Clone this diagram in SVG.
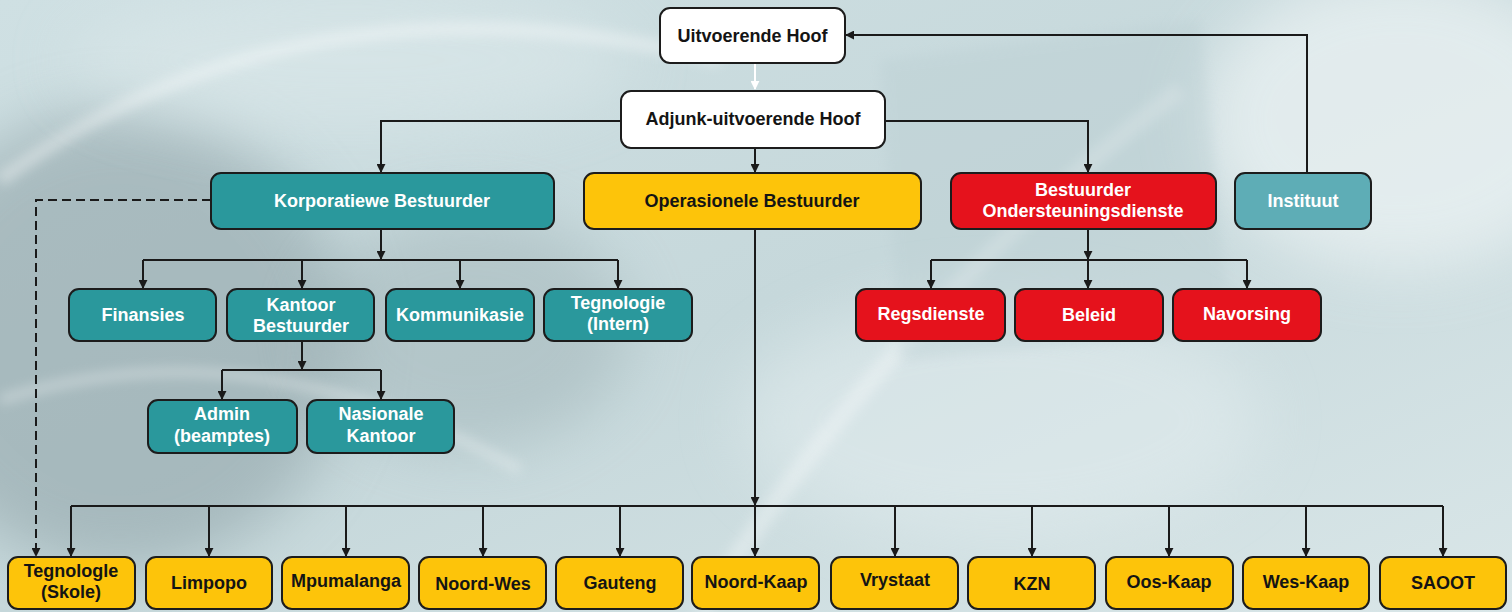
<svg xmlns="http://www.w3.org/2000/svg" width="1512" height="612" viewBox="0 0 1512 612">
<defs>
<linearGradient id="bg" x1="0" y1="0" x2="1" y2="1">
<stop offset="0" stop-color="#cfe0e3"/>
<stop offset="0.5" stop-color="#c6d8db"/>
<stop offset="1" stop-color="#d9e6e8"/>
</linearGradient>
<filter id="blur" x="-50%" y="-50%" width="200%" height="200%"><feGaussianBlur stdDeviation="30"/></filter>
<filter id="blur2" x="-20%" y="-20%" width="140%" height="140%"><feGaussianBlur stdDeviation="6"/></filter>
<marker id="ah" viewBox="0 0 10 10" refX="9" refY="5" markerWidth="9" markerHeight="9" markerUnits="userSpaceOnUse" orient="auto"><path d="M0,0 L10,5 L0,10 z" fill="#1a1a1a"/></marker>
<marker id="ahw" viewBox="0 0 10 10" refX="9" refY="5" markerWidth="9" markerHeight="9" markerUnits="userSpaceOnUse" orient="auto"><path d="M0,0 L10,5 L0,10 z" fill="#ffffff"/></marker>
<style>
.box{stroke:#1c1c1c;stroke-width:2}
.w{fill:#ffffff}
.t{fill:#2a989c}
.ti{fill:#5eadb6}
.y{fill:#fdc40a}
.r{fill:#e5121c}
text{font-family:"Liberation Sans",Arial,sans-serif;font-weight:bold;font-size:18px;text-anchor:middle}
.dk{fill:#141414}
.lt{fill:#ffffff}
.c{fill:none;stroke:#1a1a1a;stroke-width:2}
.ca{marker-end:url(#ah)}
.dash{stroke-dasharray:9 5}
</style>
</defs>
<g id="background">
<rect width="1512" height="612" fill="url(#bg)"/>
<ellipse cx="120" cy="340" rx="230" ry="230" fill="#869a9f" opacity="0.5" filter="url(#blur)"/>
<ellipse cx="470" cy="330" rx="160" ry="120" fill="#97aaae" opacity="0.4" filter="url(#blur)"/>
<ellipse cx="1400" cy="120" rx="200" ry="150" fill="#eef4f5" opacity="0.7" filter="url(#blur)"/>
<ellipse cx="1000" cy="420" rx="260" ry="120" fill="#e4eef0" opacity="0.5" filter="url(#blur)"/>
<ellipse cx="350" cy="60" rx="280" ry="70" fill="#dbe8ea" opacity="0.6" filter="url(#blur)"/>
<path d="M0,180 Q300,-40 720,60" fill="none" stroke="#ffffff" stroke-width="14" opacity="0.35" filter="url(#blur2)"/>
<path d="M0,400 Q250,320 520,470" fill="none" stroke="#ffffff" stroke-width="10" opacity="0.3" filter="url(#blur2)"/>
<path d="M700,612 Q900,300 1180,90" fill="none" stroke="#ffffff" stroke-width="18" opacity="0.3" filter="url(#blur2)"/>
<path d="M880,60 L1200,20 L1230,330 L900,360 z" fill="#b9cdd1" opacity="0.35" filter="url(#blur2)"/>
</g>
<g id="connectors">
<path class="c" d="M755,64 V89" style="stroke:#ffffff" marker-end="url(#ahw)"/>
<path class="c ca" d="M621,121 H381 V172"/>
<path class="c ca" d="M755,149 V172"/>
<path class="c ca" d="M885,121 H1088 V172"/>
<path class="c ca" d="M1307,172 V35 H846"/>
<path class="c ca" d="M381,229 V259"/>
<path class="c" d="M143,260 H618"/>
<path class="c ca" d="M143,260 V288"/>
<path class="c ca" d="M302,260 V288"/>
<path class="c ca" d="M460,260 V288"/>
<path class="c ca" d="M618,260 V288"/>
<path class="c ca" d="M302,342 V369"/>
<path class="c" d="M222,370 H381"/>
<path class="c ca" d="M222,370 V399"/>
<path class="c ca" d="M381,370 V399"/>
<path class="c ca" d="M1088,229 V259"/>
<path class="c" d="M931,260 H1247"/>
<path class="c ca" d="M931,260 V288"/>
<path class="c ca" d="M1088,260 V288"/>
<path class="c ca" d="M1247,260 V288"/>
<path class="c ca dash" d="M211,200 H36 V556"/>
<path class="c ca" d="M755,229 V505"/>
<path class="c ca" d="M755,506 V556"/>
<path class="c" d="M71,506 H1443"/>
<path class="c ca" d="M71,506 V556"/>
<path class="c ca" d="M209,506 V556"/>
<path class="c ca" d="M346,506 V556"/>
<path class="c ca" d="M483,506 V556"/>
<path class="c ca" d="M620,506 V556"/>
<path class="c ca" d="M895,506 V556"/>
<path class="c ca" d="M1032,506 V556"/>
<path class="c ca" d="M1169,506 V556"/>
<path class="c ca" d="M1306,506 V556"/>
<path class="c ca" d="M1443,506 V556"/>
</g>
<g id="uitvoerende-hoof"><rect class="box w" x="660" y="8" width="185" height="55" rx="10"/><text class="dk" x="752.5" y="42">Uitvoerende Hoof</text></g>
<g id="adjunk"><rect class="box w" x="621" y="91" width="264" height="57" rx="10"/><text class="dk" x="753" y="125">Adjunk-uitvoerende Hoof</text></g>
<g id="korporatiewe"><rect class="box t" x="211" y="173" width="343" height="56" rx="10"/><text class="lt" x="382" y="207">Korporatiewe Bestuurder</text></g>
<g id="operasionele"><rect class="box y" x="584" y="173" width="337" height="56" rx="10"/><text class="dk" x="752" y="207">Operasionele Bestuurder</text></g>
<g id="ondersteuning"><rect class="box r" x="951" y="173" width="265" height="56" rx="10"/><text class="lt" x="1083" y="196">Bestuurder</text><text class="lt" x="1083" y="217">Ondersteuningsdienste</text></g>
<g id="instituut"><rect class="box ti" x="1235" y="173" width="136" height="56" rx="10"/><text class="lt" x="1303" y="207">Instituut</text></g>
<g id="finansies"><rect class="box t" x="69" y="289" width="147" height="52" rx="10"/><text class="lt" x="143" y="321">Finansies</text></g>
<g id="kantoor-bestuurder"><rect class="box t" x="227" y="289" width="147" height="52" rx="10"/><text class="lt" x="301" y="311">Kantoor</text><text class="lt" x="301" y="332">Bestuurder</text></g>
<g id="kommunikasie"><rect class="box t" x="386" y="289" width="148" height="52" rx="10"/><text class="lt" x="460" y="321">Kommunikasie</text></g>
<g id="tegnologie-intern"><rect class="box t" x="544" y="289" width="148" height="52" rx="10"/><text class="lt" x="618" y="309">Tegnologie</text><text class="lt" x="618" y="330">(Intern)</text></g>
<g id="admin"><rect class="box t" x="148" y="400" width="149" height="53" rx="10"/><text class="lt" x="222" y="420">Admin</text><text class="lt" x="222" y="442">(beamptes)</text></g>
<g id="nasionale-kantoor"><rect class="box t" x="307" y="400" width="147" height="53" rx="10"/><text class="lt" x="381" y="420">Nasionale</text><text class="lt" x="381" y="442">Kantoor</text></g>
<g id="regsdienste"><rect class="box r" x="856" y="289" width="149" height="52" rx="10"/><text class="lt" x="931" y="320">Regsdienste</text></g>
<g id="beleid"><rect class="box r" x="1015" y="289" width="148" height="52" rx="10"/><text class="lt" x="1089" y="321">Beleid</text></g>
<g id="navorsing"><rect class="box r" x="1173" y="289" width="148" height="52" rx="10"/><text class="lt" x="1247" y="320">Navorsing</text></g>
<g id="tegnologie-skole"><rect class="box y" x="8" y="557" width="127" height="52" rx="10"/><text class="dk" x="71" y="577">Tegnologle</text><text class="dk" x="71" y="598">(Skole)</text></g>
<g id="limpopo"><rect class="box y" x="146" y="557" width="126" height="52" rx="10"/><text class="dk" x="209" y="589">Limpopo</text></g>
<g id="mpumalanga"><rect class="box y" x="282" y="557" width="127" height="52" rx="10"/><text class="dk" x="346" y="587">Mpumalanga</text></g>
<g id="noord-wes"><rect class="box y" x="419" y="557" width="127" height="52" rx="10"/><text class="dk" x="483" y="590">Noord-Wes</text></g>
<g id="gauteng"><rect class="box y" x="556" y="557" width="127" height="52" rx="10"/><text class="dk" x="620" y="589">Gauteng</text></g>
<g id="noord-kaap"><rect class="box y" x="692" y="557" width="127" height="52" rx="10"/><text class="dk" x="756" y="588">Noord-Kaap</text></g>
<g id="vrystaat"><rect class="box y" x="831" y="557" width="127" height="52" rx="10"/><text class="dk" x="895" y="586">Vrystaat</text></g>
<g id="kzn"><rect class="box y" x="968" y="557" width="127" height="52" rx="10"/><text class="dk" x="1032" y="590">KZN</text></g>
<g id="oos-kaap"><rect class="box y" x="1106" y="557" width="127" height="52" rx="10"/><text class="dk" x="1169" y="588">Oos-Kaap</text></g>
<g id="wes-kaap"><rect class="box y" x="1243" y="557" width="126" height="52" rx="10"/><text class="dk" x="1306" y="588">Wes-Kaap</text></g>
<g id="saoot"><rect class="box y" x="1380" y="557" width="126" height="52" rx="10"/><text class="dk" x="1443" y="589">SAOOT</text></g>
</svg>
